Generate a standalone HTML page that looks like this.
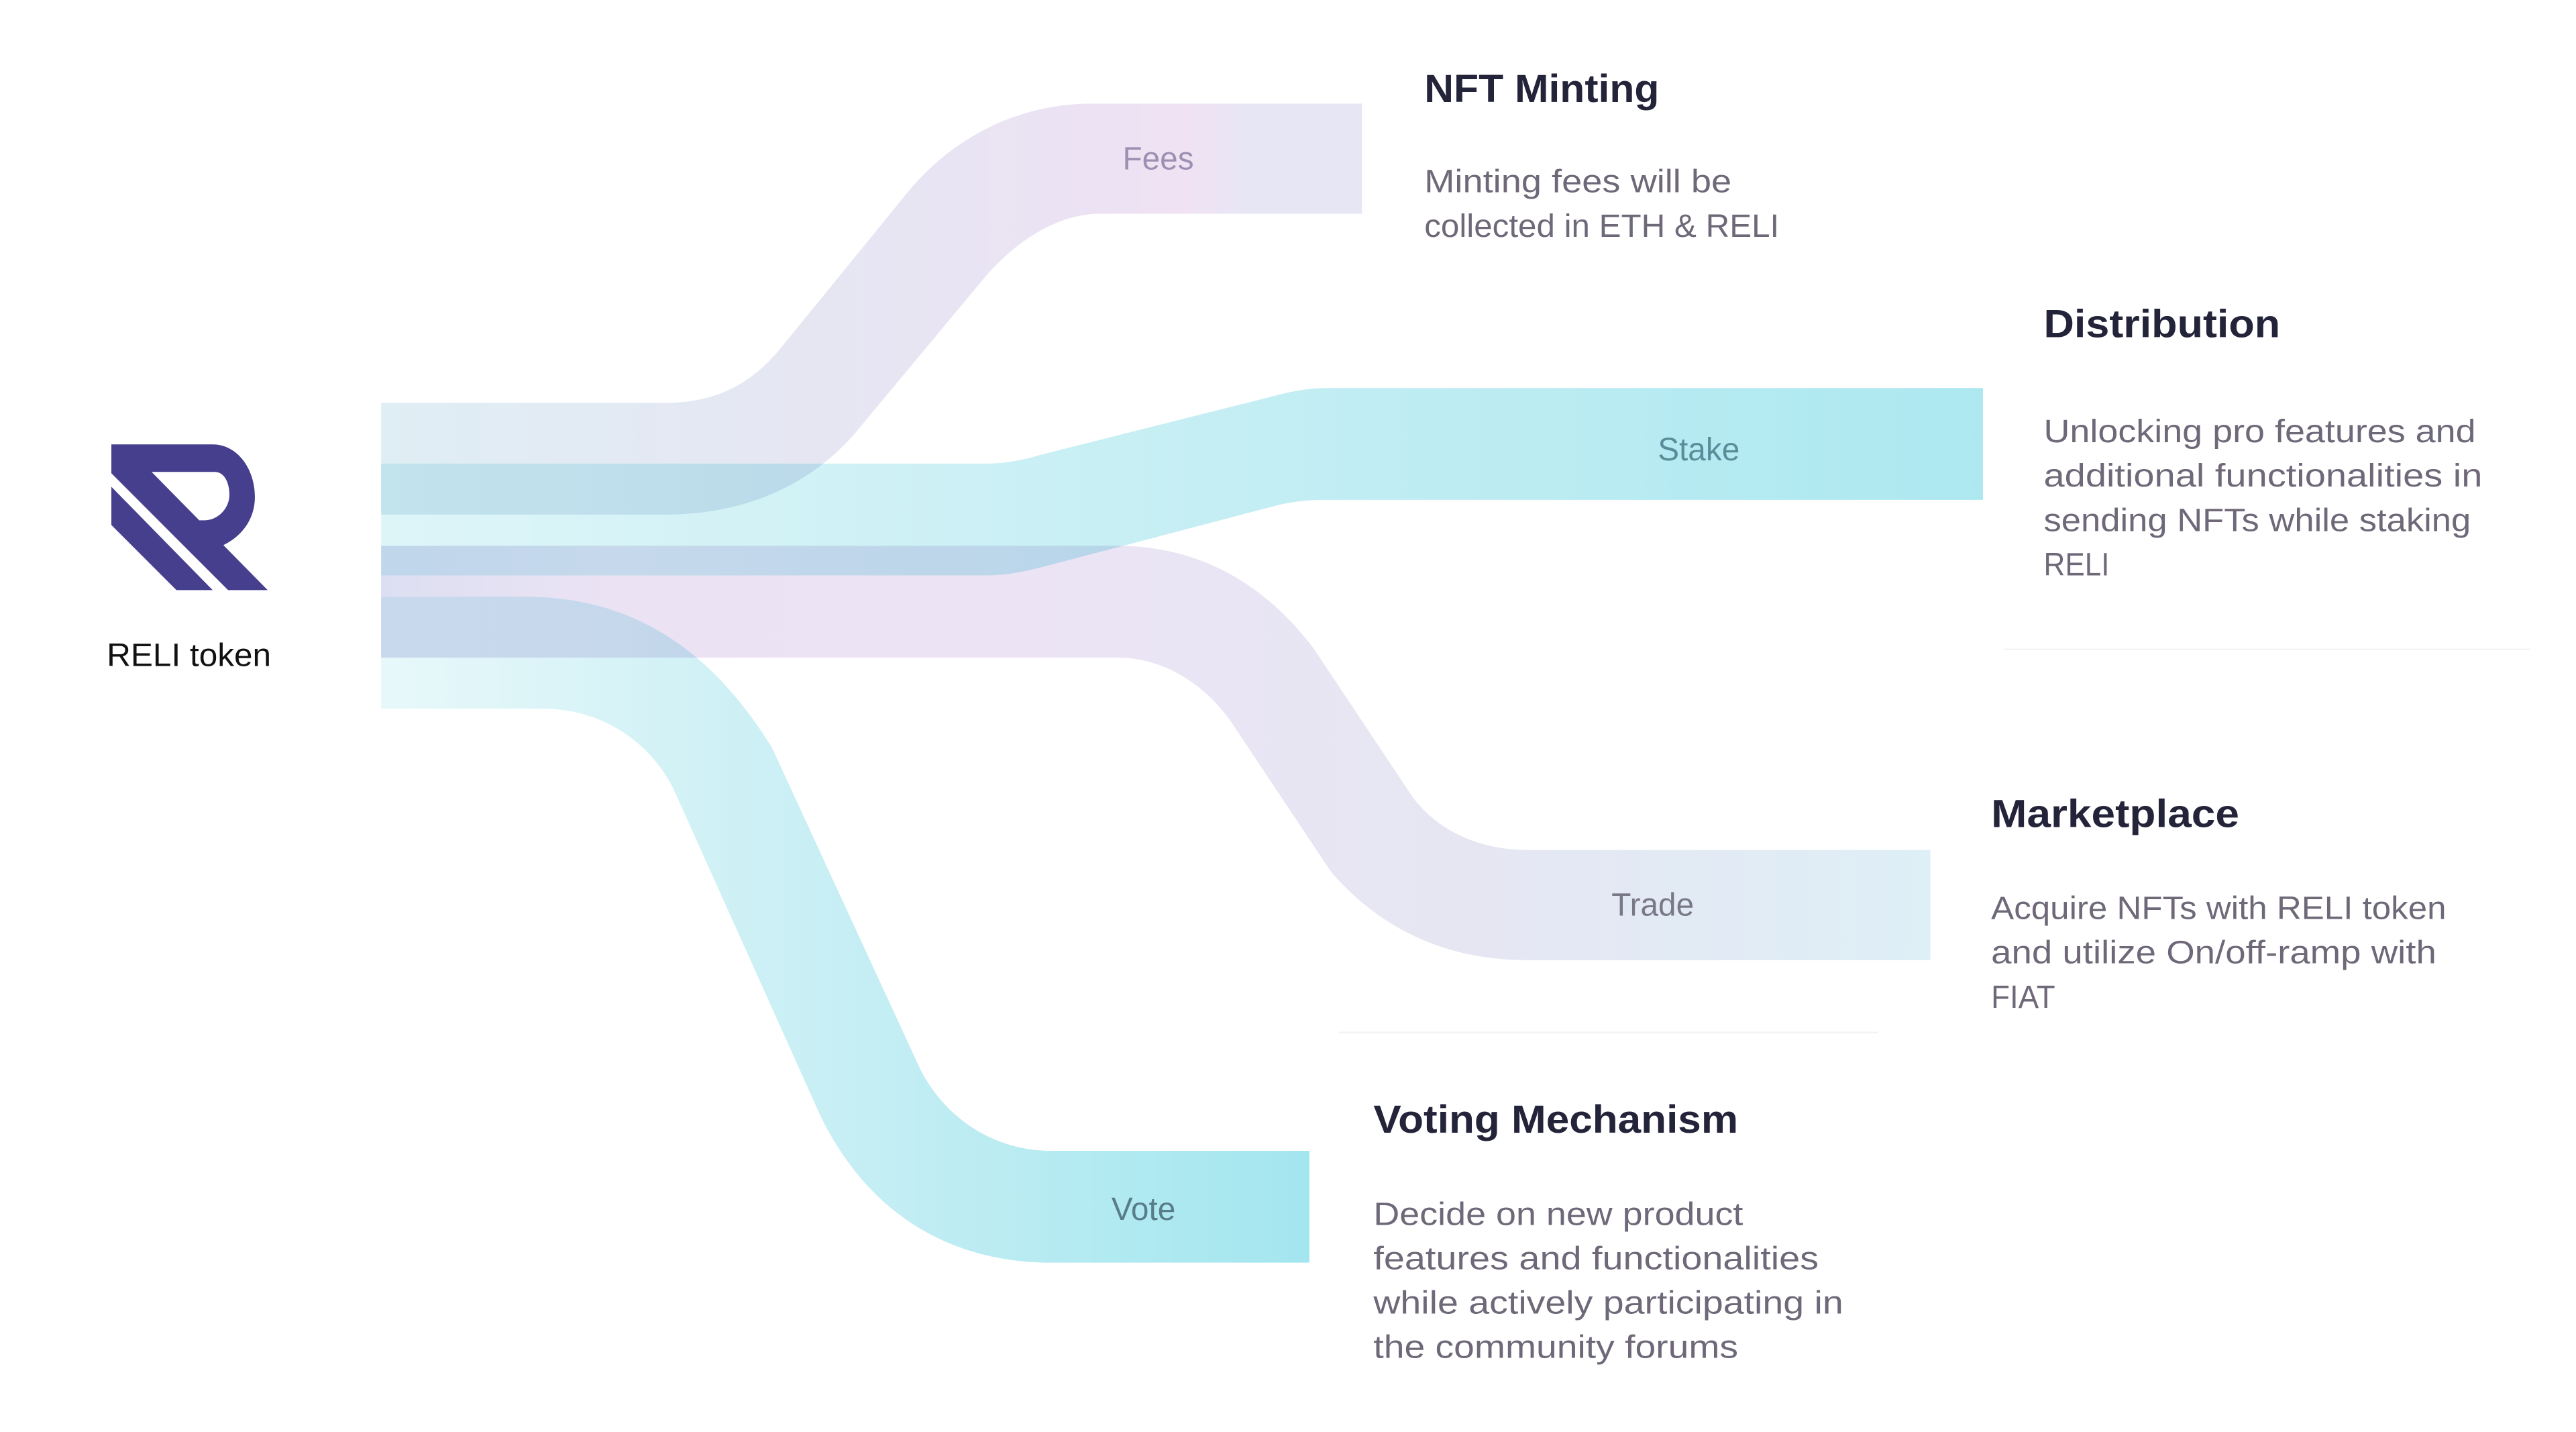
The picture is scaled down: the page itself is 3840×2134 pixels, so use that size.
<!DOCTYPE html>
<html><head><meta charset="utf-8"><style>
html,body{margin:0;padding:0;background:#fff;}
svg{display:block;}
text{font-family:"Liberation Sans",sans-serif;}
.t{font-size:24px;font-weight:bold;fill:#23233a;}
.d{font-size:19.5px;fill:#6e6878;}
.l{font-size:19.5px;}
</style></head><body>
<svg width="3840" height="2134" viewBox="0 0 1568 871" preserveAspectRatio="none" xmlns="http://www.w3.org/2000/svg">
<defs>
<linearGradient id="gf" x1="232" y1="0" x2="829" y2="0" gradientUnits="userSpaceOnUse">
<stop offset="0" stop-color="#dfeef4"/><stop offset="0.45" stop-color="#e6e6f3"/><stop offset="0.75" stop-color="#ece2f3"/><stop offset="0.82" stop-color="#f0e2f3"/><stop offset="0.88" stop-color="#e7e6f4"/><stop offset="1" stop-color="#e7e6f4"/>
</linearGradient>
<linearGradient id="gs" x1="232" y1="0" x2="1207" y2="0" gradientUnits="userSpaceOnUse">
<stop offset="0" stop-color="#def5f8"/><stop offset="1" stop-color="#ade8f0"/>
</linearGradient>
<linearGradient id="gt" x1="232" y1="0" x2="1175" y2="0" gradientUnits="userSpaceOnUse">
<stop offset="0" stop-color="#dcdff2"/><stop offset="0.15" stop-color="#ebe3f4"/><stop offset="0.4" stop-color="#ece4f4"/><stop offset="0.7" stop-color="#e6e6f3"/><stop offset="1" stop-color="#deeff6"/>
</linearGradient>
<linearGradient id="gv" x1="232" y1="0" x2="797" y2="0" gradientUnits="userSpaceOnUse">
<stop offset="0" stop-color="#e8f8fa"/><stop offset="0.4" stop-color="#cdf0f5"/><stop offset="1" stop-color="#a3e6ef"/>
</linearGradient>
</defs>
<line x1="1220" y1="395" x2="1540" y2="395" stroke="#f3f3f5" stroke-width="1"/>
<line x1="815" y1="628" x2="1143" y2="628" stroke="#f3f3f5" stroke-width="1"/>
<g style="mix-blend-mode:multiply">
<path fill="url(#gf)" d="M232,245 H405 C440,245 460,230 475,212 L550,120 C575,88 615,63 665,63 H829 V130 H670 C645,130 620,145 600,168 L525,258 C500,290 460,313 405,313 H232 Z"/>
</g>
<path style="mix-blend-mode:multiply" fill="url(#gs)" d="M232,282 H600 C612,282 622,280 632,277 L775,241 C786,238 796,236 808,236 H1207 V304 H806 C796,304 786,305 775,308 L634,345 C622,348 612,350 600,350 H232 Z"/>
<path style="mix-blend-mode:multiply" fill="url(#gt)" d="M232,332 H680 C730,332 770,355 800,395 L860,485 C875,505 900,517 930,517 H1175 V584 H930 C880,584 840,565 810,530 L750,440 C735,418 710,400 680,400 H232 Z"/>
<path style="mix-blend-mode:multiply" fill="url(#gv)" d="M232,363 H320 C380,363 430,390 470,455 L560,650 C575,680 605,700 640,700 H797 V768 H640 C580,768 530,740 500,680 L410,480 C395,450 365,431 330,431 H232 Z"/>

<g transform="scale(0.40833)" fill="#463f8e">
<path fill-rule="evenodd" d="M166,662 H317 C355,662 380,700 380,740 C380,772 362,798 333,812 L399,879 H340 L166,705 Z M226,703 H320 C335,703 342,720 342,737 C342,757 325,775 305,775 H297 Z"/>
<path d="M166,725 L317,879 H263 L166,782 Z"/>
</g>
<text x="65" y="405" style="font-size:19.5px;fill:#111" textLength="100" lengthAdjust="spacingAndGlyphs">RELI token</text>

<text class="l" x="705" y="103" text-anchor="middle" fill="#9c90b2">Fees</text>
<text class="l" x="1034" y="280" text-anchor="middle" fill="#5a8d9a">Stake</text>
<text class="l" x="1006" y="557" text-anchor="middle" fill="#787888">Trade</text>
<text class="l" x="696" y="742" text-anchor="middle" fill="#587c8a">Vote</text>

<text class="t" x="867" y="62" textLength="143" lengthAdjust="spacingAndGlyphs">NFT Minting</text>
<text class="d" x="867" y="117" textLength="187" lengthAdjust="spacingAndGlyphs">Minting fees will be</text>
<text class="d" x="867" y="144" textLength="216" lengthAdjust="spacingAndGlyphs">collected in ETH &amp; RELI</text>

<text class="t" x="1244" y="205" textLength="144" lengthAdjust="spacingAndGlyphs">Distribution</text>
<text class="d" x="1244" y="269" textLength="263" lengthAdjust="spacingAndGlyphs">Unlocking pro features and</text>
<text class="d" x="1244" y="296" textLength="267" lengthAdjust="spacingAndGlyphs">additional functionalities in</text>
<text class="d" x="1244" y="323" textLength="260" lengthAdjust="spacingAndGlyphs">sending NFTs while staking</text>
<text class="d" x="1244" y="350" textLength="40" lengthAdjust="spacingAndGlyphs">RELI</text>

<text class="t" x="1212" y="503" textLength="151" lengthAdjust="spacingAndGlyphs">Marketplace</text>
<text class="d" x="1212" y="559" textLength="277" lengthAdjust="spacingAndGlyphs">Acquire NFTs with RELI token</text>
<text class="d" x="1212" y="586" textLength="271" lengthAdjust="spacingAndGlyphs">and utilize On/off-ramp with</text>
<text class="d" x="1212" y="613" textLength="39" lengthAdjust="spacingAndGlyphs">FIAT</text>

<text class="t" x="836" y="689" textLength="222" lengthAdjust="spacingAndGlyphs">Voting Mechanism</text>
<text class="d" x="836" y="745" textLength="225" lengthAdjust="spacingAndGlyphs">Decide on new product</text>
<text class="d" x="836" y="772" textLength="271" lengthAdjust="spacingAndGlyphs">features and functionalities</text>
<text class="d" x="836" y="799" textLength="286" lengthAdjust="spacingAndGlyphs">while actively participating in</text>
<text class="d" x="836" y="826" textLength="222" lengthAdjust="spacingAndGlyphs">the community forums</text>
</svg>
</body></html>
